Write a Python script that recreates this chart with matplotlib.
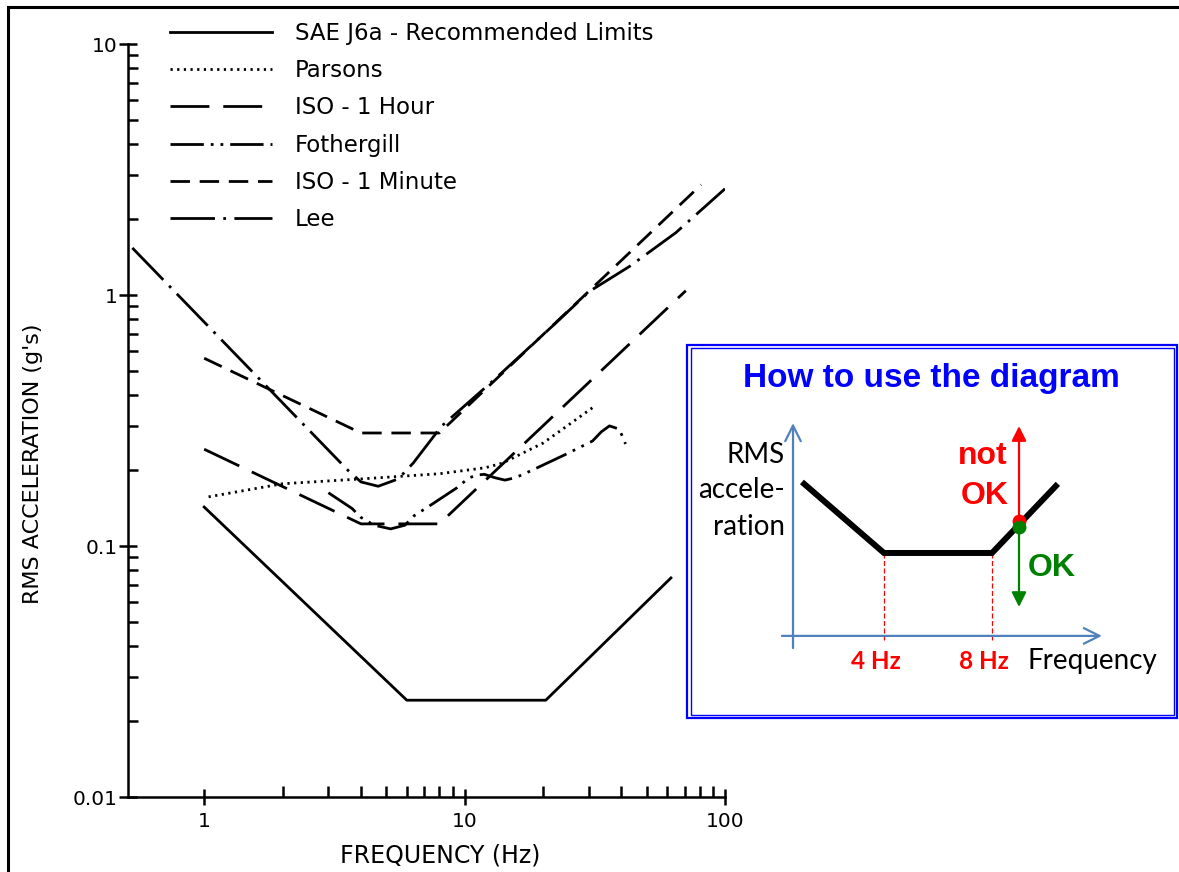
import matplotlib
matplotlib.use("Agg")
import matplotlib.pyplot as plt
from matplotlib.lines import Line2D
from matplotlib.patches import Rectangle
from matplotlib.ticker import FixedLocator, FixedFormatter, NullFormatter, LogLocator

# ---------------- data ----------------
sae_f = [1.0, 6.0, 20.5, 62.0]
sae_a = [0.143, 0.0243, 0.0243, 0.0746]

parsons_f = [1.04, 2.0, 4.0, 8.0, 12.0, 14.0, 20.0, 25.0, 31.5]
parsons_a = [0.157, 0.177, 0.185, 0.194, 0.205, 0.214, 0.257, 0.303, 0.36]

iso1h_f = [1.0, 4.0, 8.0, 70.7]
iso1h_a = [0.243, 0.1225, 0.1225, 1.04]

fothergill_f = [3.0, 3.7, 4.0, 4.5, 5.2, 5.9, 6.4, 7.3, 9.3, 10.4, 11.3, 11.9,
                13.1, 14.3, 15.6, 16.2, 17.9, 24.5, 31.0, 33.5, 36.0, 39.3, 41.5]
fothergill_a = [0.163, 0.141, 0.130, 0.121, 0.117, 0.121, 0.132, 0.144, 0.170,
                0.187, 0.192, 0.193, 0.187, 0.183, 0.187, 0.190, 0.199, 0.232,
                0.262, 0.285, 0.301, 0.292, 0.255]

iso1m_f = [1.0, 4.0, 8.0, 81.0]
iso1m_a = [0.56, 0.282, 0.282, 2.75]

lee_f = [0.53, 3.57, 4.0, 4.66, 5.56, 6.35, 8.15, 13.0, 22.3, 30.0, 43.0, 64.7, 100.0]
lee_a = [1.54, 0.20, 0.18, 0.173, 0.185, 0.214, 0.30, 0.46, 0.77, 1.03, 1.30, 1.77, 2.65]

series_labels = ["SAE J6a - Recommended Limits", "Parsons", "ISO - 1 Hour",
                 "Fothergill", "ISO - 1 Minute", "Lee"]

x_ticks = [1, 10, 100]
x_tick_labels = ["1", "10", "100"]
y_ticks = [0.01, 0.1, 1, 10]
y_tick_labels = ["0.01", "0.1", "1", "10"]

# schematic ("How to use the diagram")
sketch_f = [0.96, 4.0, 8.0, 10.44]
sketch_a = [3.63, 1.0, 1.0, 3.56]
sketch_corner_f = [4.0, 8.0]
sketch_corner_labels = ["4 Hz", "8 Hz"]
check_f = 9.0
check_a_red = 2.19
check_a_green = 1.96

# ---------------- figure ----------------
W, H, DPI = 1179, 872, 100
fig = plt.figure(figsize=(W / DPI, H / DPI), dpi=DPI)
fig.patch.set_facecolor("white")


def fx(px):
    return px / W


def fy(py):
    return 1 - py / H


ax = fig.add_axes([fx(128), fy(797), fx(725) - fx(128), fy(44) - fy(797)])
ax.set_xscale("log")
ax.set_yscale("log")
ax.set_xlim(0.51, 100)
ax.set_ylim(0.01, 10)

LW = 2.0
lines = []
lines += ax.plot(sae_f, sae_a, color="black", lw=LW, ls="-")
lines += ax.plot(parsons_f, parsons_a, color="black", lw=LW, ls=(0, (0.8, 1.6)))
lines += ax.plot(iso1h_f, iso1h_a, color="black", lw=LW, ls=(0, (14, 5)))
lines += ax.plot(fothergill_f, fothergill_a, color="black", lw=LW,
                 ls=(0, (12, 2.5, 1, 2.5, 1, 2.5)))
lines += ax.plot(iso1m_f, iso1m_a, color="black", lw=LW, ls=(0, (7, 3.5)))
lines += ax.plot(lee_f, lee_a, color="black", lw=LW, ls=(0, (16, 3, 1, 3)))

for s in ("top", "right"):
    ax.spines[s].set_visible(False)
for s in ("left", "bottom"):
    ax.spines[s].set_linewidth(1.8)

ax.xaxis.set_major_locator(FixedLocator(x_ticks))
ax.xaxis.set_major_formatter(FixedFormatter(x_tick_labels))
ax.xaxis.set_minor_locator(FixedLocator([k * 10 ** e for e in (0, 1) for k in range(2, 10)]))
ax.xaxis.set_minor_formatter(NullFormatter())
ax.yaxis.set_major_locator(FixedLocator(y_ticks))
ax.yaxis.set_major_formatter(FixedFormatter(y_tick_labels))
ax.yaxis.set_minor_locator(LogLocator(base=10, subs=range(2, 10)))
ax.yaxis.set_minor_formatter(NullFormatter())

ax.tick_params(axis="x", which="major", direction="inout", length=12, width=1.8,
               pad=4.5, labelsize=14.5)
ax.tick_params(axis="x", which="minor", direction="in", length=8, width=1.8)
ax.tick_params(axis="y", which="major", direction="inout", length=13, width=1.8,
               pad=1, labelsize=14.5)
ax.tick_params(axis="y", which="minor", direction="in", length=7, width=1.8)

fig.text(fx(440), fy(855), "FREQUENCY (Hz)", ha="center", va="center", fontsize=17)
fig.text(fx(33), fy(464), "RMS ACCELERATION (g's)", ha="center", va="center",
         rotation=90, fontsize=16)

ax.legend(lines, series_labels, loc="upper left",
          bbox_to_anchor=(fx(170), fy(22)), bbox_transform=fig.transFigure,
          frameon=False, fontsize=16.5, handlelength=4.45, handletextpad=1.0,
          labelspacing=0.62, borderpad=0, borderaxespad=0)

# outer frame (top and left)
fig.add_artist(Line2D([fx(8), 1.0], [fy(7), fy(7)], transform=fig.transFigure,
                      color="black", lw=2.2))
fig.add_artist(Line2D([fx(8), fx(8)], [fy(7), 0.0], transform=fig.transFigure,
                      color="black", lw=2.2))

# ---------------- inset box ----------------
BLUE = "#0000FF"
fig.add_artist(Rectangle((fx(687), fy(718)), fx(1177) - fx(687), fy(345) - fy(718),
                         transform=fig.transFigure, fill=True, fc="white",
                         ec=BLUE, lw=1.6, zorder=5))
fig.add_artist(Rectangle((fx(690.5), fy(714.5)), fx(1173.5) - fx(690.5),
                         fy(348.5) - fy(714.5), transform=fig.transFigure,
                         fill=False, ec=BLUE, lw=1.0, zorder=6))

ins = fig.add_axes([fx(770), fy(655), fx(1110) - fx(770), fy(415) - fy(655)], zorder=10)
ins.set_xlim(-0.222, 12.37)
ins.set_ylim(-2.778, 6.11)
ins.axis("off")
ins.patch.set_alpha(0)

AXC = "#4F81BD"
axis_level = -2.07
yaxis_pos = 0.63
ins.annotate("", xy=(12.07, axis_level), xytext=(0.22, axis_level),
             arrowprops=dict(arrowstyle="->", color=AXC, lw=1.6,
                             mutation_scale=28, shrinkA=0, shrinkB=0))
ins.annotate("", xy=(yaxis_pos, 5.81), xytext=(yaxis_pos, -2.52),
             arrowprops=dict(arrowstyle="->", color=AXC, lw=1.6,
                             mutation_scale=28, shrinkA=0, shrinkB=0))
for cf in sketch_corner_f:
    ins.plot([cf, cf], [1.0, -2.22], color="red", lw=0.9, ls=(0, (4, 2)))
ins.plot(sketch_f, sketch_a, color="black", lw=4.3, solid_joinstyle="miter",
         solid_capstyle="butt")

ins.annotate("", xy=(check_f, 5.70), xytext=(check_f, check_a_red),
             arrowprops=dict(arrowstyle="-|>", color="red", lw=1.6,
                             mutation_scale=22, shrinkA=0, shrinkB=0))
ins.annotate("", xy=(check_f, -1.0), xytext=(check_f, check_a_green),
             arrowprops=dict(arrowstyle="-|>", color="#008000", lw=1.6,
                             mutation_scale=22, shrinkA=0, shrinkB=0))
ins.plot([check_f], [check_a_red], "o", color="red", ms=10, mec="none")
ins.plot([check_f], [check_a_green], "o", color="#008000", ms=10, mec="none")

fig.text(fx(931), fy(387), "How to use the diagram", ha="center", va="baseline",
         fontsize=24, fontweight="bold", color=BLUE, family="Liberation Sans", zorder=12)
for txt, yb in (("RMS", 463), ("accele-", 498), ("ration", 535)):
    fig.text(fx(785), fy(yb), txt, ha="right", va="baseline", fontsize=20,
             family="Lato", color="black", zorder=12)
for cf, lab, cx in zip(sketch_corner_f, sketch_corner_labels, (876, 984)):
    fig.text(fx(cx), fy(669), lab, ha="center", va="baseline", fontsize=17.5,
             fontweight="bold", family="Lato", color="red", zorder=12)
fig.text(fx(1027), fy(669), "Frequency", ha="left", va="baseline", fontsize=20,
         family="Lato", color="black", zorder=12)
fig.text(fx(983), fy(464), "not", ha="center", va="baseline", fontsize=23,
         fontweight="bold", family="Liberation Sans", color="red", zorder=12)
fig.text(fx(985), fy(504), "OK", ha="center", va="baseline", fontsize=23,
         fontweight="bold", family="Liberation Sans", color="red", zorder=12)
fig.text(fx(1052), fy(576), "OK", ha="center", va="baseline", fontsize=23,
         fontweight="bold", family="Liberation Sans", color="#008000", zorder=12)

fig.savefig("out.png", dpi=DPI)
